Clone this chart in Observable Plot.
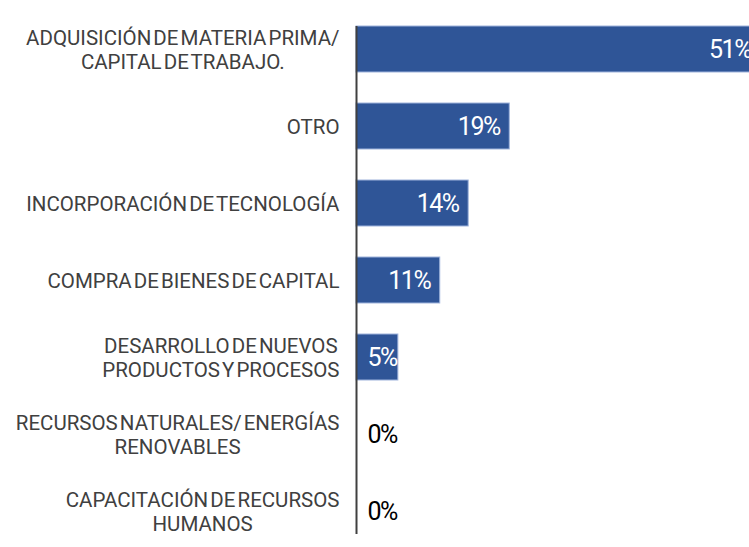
<!DOCTYPE html>
<html>
<head>
<meta charset="utf-8">
<script src="https://cdn.jsdelivr.net/npm/d3@7"></script>
<script src="https://cdn.jsdelivr.net/npm/@observablehq/plot@0.6"></script>
<style>
  html, body { margin: 0; padding: 0; background: #fff; overflow: hidden; }
  #chart svg { display: block; overflow: hidden; }
  #chart g[font-size="20.5"] text { word-spacing: -3px; }
  #chart g[font-size="25"] text { letter-spacing: -1.5px; }
</style>
</head>
<body>
<div id="chart"></div>
<script>
const categories = [
  "ADQUISICIÓN DE MATERIA PRIMA/\nCAPITAL DE TRABAJO.",
  "OTRO",
  "INCORPORACIÓN DE TECNOLOGÍA",
  "COMPRA DE BIENES DE CAPITAL",
  "DESARROLLO DE NUEVOS\nPRODUCTOS Y PROCESOS",
  "RECURSOS NATURALES/ ENERGÍAS\nRENOVABLES",
  "CAPACITACIÓN DE RECURSOS\nHUMANOS"
];
const values = [51.2, 19.4, 14.2, 10.6, 5.3, 0, 0];
const valueLabels = ["51%", "19%", "14%", "11%", "5%", "0%", "0%"];

const data = categories.map((c, i) => ({cat: c, v: values[i], label: valueLabels[i]}));

const labelFont = "Roboto, sans-serif";
const labelSize = 20.5;

// measure widest line of each category label (same font and spacing as rendered)
const ns = "http://www.w3.org/2000/svg";
const tmp = document.createElementNS(ns, "svg");
tmp.setAttribute("width", 10); tmp.setAttribute("height", 10);
document.body.appendChild(tmp);
function measure(str) {
  const t = document.createElementNS(ns, "text");
  t.setAttribute("font-family", labelFont);
  t.setAttribute("font-size", labelSize);
  t.style.wordSpacing = "-3px";
  t.textContent = str;
  tmp.appendChild(t);
  const w = t.getComputedTextLength();
  tmp.removeChild(t);
  return w;
}
const widths = categories.map(c => d3.max(c.split("\n"), measure));
tmp.remove();

const gap = 17;
const labelMarks = data.map((d, i) => Plot.text([d], {
  x: () => 0, y: "cat", text: "cat",
  textAnchor: "middle", lineAnchor: "middle",
  dx: -gap - widths[i] / 2,
  lineHeight: 1.17,
  fill: "#404040",
  fontSize: labelSize,
  fontFamily: labelFont
}));

const chart = Plot.plot({
  width: 749,
  height: 547,
  marginTop: 0, marginBottom: 0, marginLeft: 0, marginRight: 0,
  x: {domain: [0, 100], range: [356, 1146], axis: null},
  y: {domain: categories, range: [8.2, 551.4], paddingInner: 0.4, paddingOuter: 0.2, axis: null},
  marks: [
    Plot.barX(data, {x: "v", y: "cat", fill: "#2F5597", stroke: "#9FB4DC", strokeWidth: 1}),
    Plot.ruleX([0], {y1: () => categories[0], y2: () => categories[6], stroke: "#404040", strokeWidth: 2}),
    ...labelMarks,
    Plot.text(data.filter(d => d.v >= 10), {
      x: "v", y: "cat", text: "label", textAnchor: "end", dx: -10,
      fill: "white", fontSize: 25, fontFamily: "Roboto, sans-serif"
    }),
    Plot.text(data.filter(d => d.v < 10), {
      x: () => 0, y: "cat", text: "label", textAnchor: "start", dx: 11,
      fill: d => d.v > 0 ? "white" : "black", fontSize: 25, fontFamily: "Roboto, sans-serif"
    })
  ]
});
document.getElementById("chart").appendChild(chart);
</script>
</body>
</html>
